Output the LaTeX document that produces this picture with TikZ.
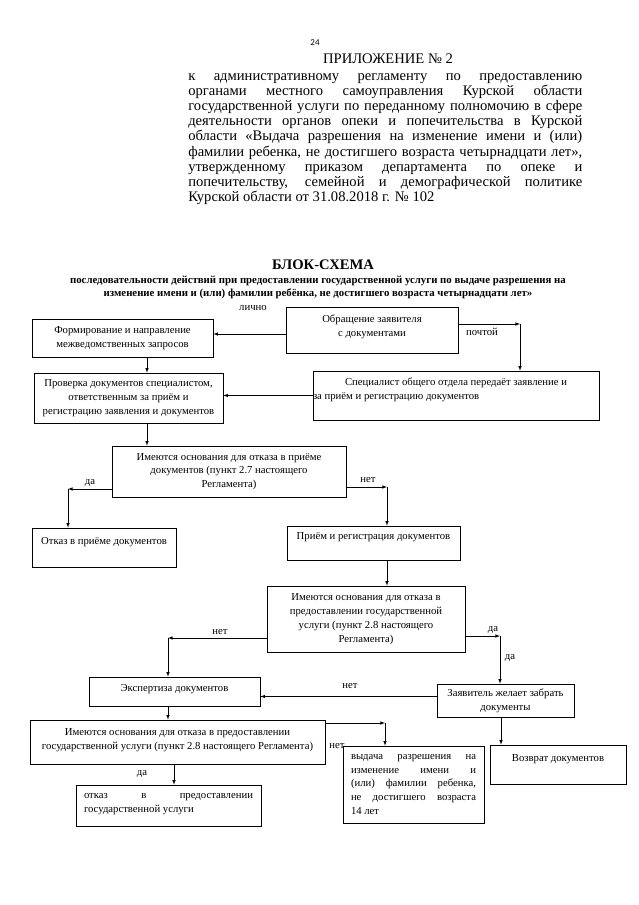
\documentclass[tikz,border=0pt]{standalone}
\usepackage{fontspec}
\setmainfont{Liberation Serif}
\newfontfamily\pagefont{Carlito}
\usetikzlibrary{positioning}
\newcommand{\jline}[2]{\makebox[#1][s]{#2}}
\newcommand{\boxfont}{\fontsize{10.7}{13.8}\selectfont}

\begin{document}
\begin{tikzpicture}
        [x=1pt, y=-1pt, line width=0.6pt,
         box/.style={draw, align=center, inner sep=1pt, font=\boxfont},
         lbl/.style={inner sep=0pt, font=\boxfont},
         arr/.style={-latex}]
        \useasboundingbox (0,0) rectangle (639,905);

        % header
        \node (pg)  at (315,43) {\pagefont\fontsize{9}{10}\selectfont 24};
        \node (app) at (388,59) {\fontsize{14.6}{15.2}\selectfont ПРИЛОЖЕНИЕ № 2};
        \node (reg) [anchor=north west, align=left, inner sep=0pt,
                     font=\fontsize{14.6}{15.2}\selectfont] at (188,73) {%
          \jline{394pt}{к административному регламенту по предоставлению}\\
          \jline{394pt}{органами местного самоуправления Курской области}\\
          \jline{394pt}{государственной услуги по переданному полномочию в сфере}\\
          \jline{394pt}{деятельности органов опеки и попечительства в Курской}\\
          \jline{394pt}{области «Выдача разрешения на изменение имени и (или)}\\
          \jline{394pt}{фамилии ребенка, не достигшего возраста четырнадцати лет»,}\\
          \jline{394pt}{утвержденному приказом департамента по опеке и}\\
          \jline{394pt}{попечительству, семейной и демографической политике}\\
          Курской области от 31.08.2018 г. № 102};

        \node (ttl) at (323,265) {\fontsize{14.6}{16}\selectfont\bfseries БЛОК-СХЕМА};
        \node (sub) [align=center, inner sep=0pt, font=\fontsize{10.8}{13}\selectfont\bfseries] at (318,287.5)
          {последовательности действий при предоставлении государственной услуги по выдаче разрешения на\\
           изменение имени и (или) фамилии ребёнка, не достигшего возраста четырнадцати лет»};

        % boxes
        \node [box, minimum width=181pt, minimum height=38pt] (form) at (122.5,338)
          {Формирование и направление\\межведомственных запросов};
        \node [box, minimum width=172pt, minimum height=46pt] (obr)  at (372,330)
          {Обращение заявителя\\с документами\\[-5pt]\mbox{}};
        \node [box, minimum width=189pt, minimum height=50pt] (prov) at (128.5,398)
          {Проверка документов специалистом,\\ответственным за приём и\\регистрацию заявления и документов};
        \node [box, inner xsep=0pt, minimum width=286pt, minimum height=49pt] (spec) at (456,395.5)
          {Специалист общего отдела передаёт заявление и\\
           \makebox[286pt][l]{за приём и регистрацию документов}\\\mbox{}};
        \node [box, minimum width=234pt, minimum height=51pt] (im1)  at (229,471.5)
          {Имеются основания для отказа в приёме\\документов (пункт 2.7 настоящего\\Регламента)};
        \node [box, minimum width=144pt, minimum height=39pt] (otk1) at (104,547.5)
          {Отказ в приёме документов\\\mbox{}};
        \node [box, minimum width=173pt, minimum height=34pt] (prm)  at (373.5,543)
          {Приём и регистрация документов\\\mbox{}};
        \node [box, minimum width=198pt, minimum height=66pt] (im2)  at (366,619)
          {Имеются основания для отказа в\\предоставлении государственной\\услуги (пункт 2.8 настоящего\\Регламента)};
        \node [box, minimum width=171pt, minimum height=29pt] (exp)  at (174.5,691.5)
          {Экспертиза документов\\[-7pt]\mbox{}};
        \node [box, minimum width=137pt, minimum height=33pt] (zayv) at (505.5,700.5)
          {Заявитель желает забрать\\документы};
        \node [box, minimum width=295pt, minimum height=44pt] (im3)  at (177.5,742)
          {Имеются основания для отказа в предоставлении\\государственной услуги (пункт 2.8 настоящего Регламента)\\[-7pt]\mbox{}};
        \node [box, minimum width=141pt, minimum height=77pt] (vyd)  at (413.5,784.5)
          {\jline{125pt}{выдача разрешения на}\\
           \jline{125pt}{изменение имени и}\\
           \jline{125pt}{(или) фамилии ребенка,}\\
           \jline{125pt}{не достигшего возраста}\\
           \makebox[125pt][l]{14 лет}};
        \node [box, minimum width=136pt, minimum height=39pt] (vozv) at (558,764.5)
          {Возврат документов\\\mbox{}};
        \node [box, minimum width=185pt, minimum height=41pt] (otk2) at (168.5,805.5)
          {\jline{169pt}{отказ в предоставлении}\\
           \makebox[169pt][l]{государственной услуги}\\[-9pt]\mbox{}};

        % corners
        \coordinate (c1) at (520,324);
        \coordinate (c2) at (68,489);
        \coordinate (c3) at (387,487);
        \coordinate (c4) at (168,638);
        \coordinate (c5) at (500,636);
        \coordinate (c6) at (385,723);

        % labels
        \node [lbl] (l1)  at (253,308) {лично};
        \node [lbl] (l2)  at (482,332) {почтой};
        \node [lbl] (l3)  at (90,483)  {да};
        \node [lbl] (l4)  at (368,480) {нет};
        \node [lbl] (l5)  at (220,632) {нет};
        \node [lbl] (l6)  at (493,630) {да};
        \node [lbl] (l7)  at (510,658) {да};
        \node [lbl] (l8)  at (350,686) {нет};
        \node [lbl] (l9)  at (337,746) {нет};
        \node [lbl] (l10) at (142,774) {да};

        % connectors
        \draw[arr] ([yshift=-4pt]obr.west) -- ([yshift=-4pt]obr.west -| form.east);
        \draw[arr] (obr.east |- c1) -- (c1);
        \draw[arr] (c1) -- (c1 |- spec.north);
        \draw[arr] (spec.west) -- (spec.west -| prov.east);
        \draw[arr] (form.south -| 147,0) -- (prov.north -| 147,0);
        \draw[arr] (prov.south -| 147,0) -- (im1.north -| 147,0);
        \draw[arr] (im1.west |- c2) -- (c2);
        \draw[arr] (c2) -- (c2 |- otk1.north);
        \draw[arr] (im1.east |- c3) -- (c3);
        \draw[arr] (c3) -- (c3 |- prm.north);
        \draw[arr] (prm.south -| 387,0) -- (im2.north -| 387,0);
        \draw[arr] (im2.west |- c4) -- (c4);
        \draw[arr] (c4) -- (c4 |- exp.north);
        \draw[arr] (im2.east |- c5) -- (c5);
        \draw[arr] (c5) -- (c5 |- zayv.north);
        \draw[arr] ([yshift=4pt]zayv.west) -- ([yshift=4pt]zayv.west -| exp.east);
        \draw[arr] (exp.south -| 168,0) -- (im3.north -| 168,0);
        \draw[arr] (im3.east |- c6) -- (c6);
        \draw[arr] (c6) -- (c6 |- vyd.north);
        \draw[arr] (im3.south -| 174,0) -- (otk2.north -| 174,0);
        \draw[arr] (zayv.south -| 501,0) -- (vozv.north -| 501,0);
\end{tikzpicture}
\end{document}
